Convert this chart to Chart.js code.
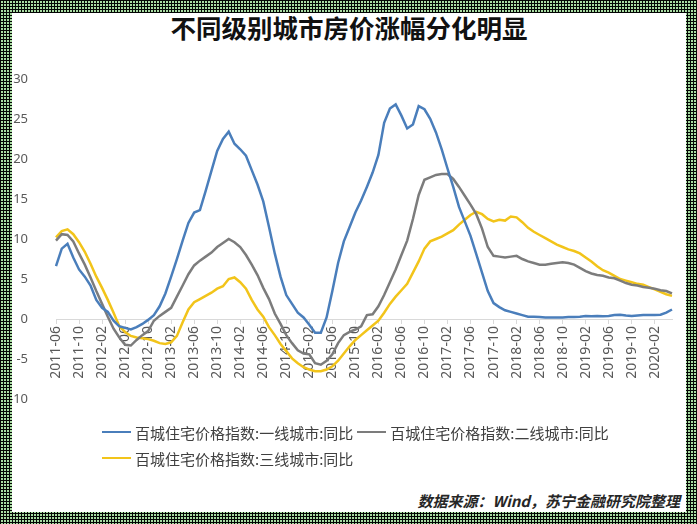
<!DOCTYPE html>
<html><head><meta charset="utf-8">
<script src="https://cdn.jsdelivr.net/npm/chart.js@4.4.1/dist/chart.umd.min.js"></script>
<style>
html,body{margin:0;padding:0;}
body{width:697px;height:524px;position:relative;overflow:hidden;background-color:#a9dca3;
background-image:linear-gradient(to right,#040604 1px,transparent 1px),linear-gradient(to bottom,#040604 1px,transparent 1px);background-size:3px 3px;}
#panel{position:absolute;left:12px;top:13px;width:674px;height:499px;background:#fff;}
#title{position:absolute;left:0;width:674px;top:-1px;height:30px;line-height:30px;text-align:center;font-family:"Noto Sans CJK SC";font-weight:bold;font-size:25.5px;color:#111;}
#wrap{position:absolute;left:0;top:38px;width:674px;height:376px;}
#legend{position:absolute;left:90px;top:406px;width:540px;display:flex;flex-wrap:wrap;font-family:"Noto Sans CJK SC";font-size:15px;color:#404040;}
.item{display:flex;align-items:center;height:26px;margin-right:4px;}
.swatch{width:29px;height:2.5px;margin-right:4px;}
#source{position:absolute;right:6px;top:477px;height:22px;line-height:22px;font-family:"Noto Sans CJK SC";font-weight:bold;font-style:italic;font-size:15px;color:#262626;}
</style></head>
<body>
<div id="panel">
  <div id="title">不同级别城市房价涨幅分化明显</div>
  <div id="wrap"><canvas id="c" width="674" height="376"></canvas></div>
  <div id="legend"></div>
  <div id="source">数据来源：Wind，苏宁金融研究院整理</div>
</div>
<script>
// ---- data ----
const startYear = 2011, startMonth = 6, monthCount = 108;
const months = [];
for (let k = 0; k < monthCount; k++) {
  const m = startMonth - 1 + k;
  const yy = startYear + Math.floor(m / 12), mm = (m % 12) + 1;
  months.push(yy + '-' + (mm < 10 ? '0' + mm : mm));
}
const seriesNames = ['百城住宅价格指数:一线城市:同比', '百城住宅价格指数:二线城市:同比', '百城住宅价格指数:三线城市:同比'];
const seriesColors = ['#4a7ebb', '#7c7c7c', '#f2c41a'];
const tier1 = [
  6.6, 8.8, 9.4, 7.7, 6.2, 5.3, 4.2, 2.4, 1.4, 0.9,
  -0.2, -0.9, -1.1, -1.3, -1.0, -0.6, -0.1, 0.5, 1.6, 3.2,
  5.3, 7.5, 9.8, 12.0, 13.3, 13.6, 16.0, 18.5, 21.0, 22.5,
  23.4, 21.9, 21.2, 20.4, 18.6, 16.8, 14.7, 11.5, 8.2, 5.3,
  3.0, 1.9, 0.8, 0.2, -0.7, -1.7, -1.7, 0.2, 3.5, 7.0,
  9.7, 11.5, 13.3, 14.8, 16.5, 18.3, 20.5, 24.5, 26.3, 26.8,
  25.4, 23.8, 24.3, 26.6, 26.2, 25.0, 23.3, 21.2, 18.8, 16.5,
  14.0, 12.2, 10.4, 8.1, 5.8, 3.5, 2.0, 1.5, 1.1, 0.9,
  0.7, 0.5, 0.3, 0.3, 0.25, 0.2, 0.2, 0.2, 0.2, 0.25,
  0.25, 0.3, 0.4, 0.35, 0.4, 0.35, 0.4, 0.5, 0.55, 0.45,
  0.4, 0.45, 0.5, 0.5, 0.5, 0.55, 0.8, 1.2
];
const tier2 = [
  9.8, 10.6, 10.5, 9.7, 8.2, 6.8, 5.2, 3.5, 1.9, 0.3,
  -1.2, -2.3, -3.2, -3.3, -2.6, -2.0, -1.5, -0.2, 0.4, 0.9,
  1.4, 2.8, 4.2, 5.6, 6.7, 7.3, 7.8, 8.3, 9.0, 9.5,
  10.0, 9.6, 9.0, 8.0, 6.8, 5.5, 3.9, 2.5, 0.7, -0.6,
  -2.0, -3.0, -3.9, -4.3, -4.4, -5.5, -5.7, -5.2, -4.4, -3.0,
  -2.0, -1.6, -1.3, -0.9, 0.5, 0.6, 1.6, 3.0, 4.6, 6.2,
  8.0, 9.8, 12.5, 15.5, 17.4, 17.7, 18.0, 18.1, 18.1, 17.5,
  16.5, 15.4, 14.3, 13.1, 11.3, 9.0, 7.9, 7.8, 7.7, 7.8,
  7.9, 7.5, 7.2, 7.0, 6.8, 6.8, 6.9, 7.0, 7.1, 7.0,
  6.8, 6.4, 6.0, 5.7, 5.5, 5.4, 5.2, 5.1, 4.8, 4.5,
  4.3, 4.2, 4.0, 3.9, 3.8, 3.6, 3.5, 3.2
];
const tier3 = [
  10.2, 11.0, 11.2, 10.6, 9.6, 8.4, 6.9, 5.3, 3.9, 2.4,
  0.8, -0.9, -1.6, -2.1, -2.3, -2.4, -2.5, -2.7, -3.0, -3.1,
  -2.9, -2.1, -0.4, 1.2, 2.1, 2.5, 2.9, 3.3, 3.8, 4.1,
  5.0, 5.2, 4.6, 3.8, 2.4, 1.2, 0.3, -1.0, -2.0, -3.1,
  -4.0, -4.9, -5.5, -6.0, -6.3, -6.5, -6.5, -6.3, -5.9, -5.2,
  -4.3, -3.4, -2.6, -2.0, -1.4, -0.8, -0.2, 0.8, 1.9, 2.8,
  3.6, 4.4, 5.8, 7.2, 8.8, 9.7, 10.0, 10.3, 10.7, 11.1,
  11.8, 12.4, 13.0, 13.4, 13.1, 12.5, 12.2, 12.4, 12.3, 12.8,
  12.7, 12.1, 11.4, 10.9, 10.5, 10.1, 9.7, 9.3, 9.0, 8.7,
  8.5, 8.2, 7.7, 7.2, 6.6, 6.1, 5.8, 5.4, 5.0, 4.8,
  4.6, 4.4, 4.3, 4.0, 3.7, 3.4, 3.1, 2.9
];
const seriesValues = [tier1, tier2, tier3];
const yMin = -10, yMax = 30, yStep = 5, labelEvery = 4;

// ---- legend ----
const legend = document.getElementById('legend');
seriesNames.forEach((n, k) => {
  const it = document.createElement('div'); it.className = 'item';
  const sw = document.createElement('div'); sw.className = 'swatch'; sw.style.background = seriesColors[k];
  const tx = document.createElement('span'); tx.textContent = n;
  it.appendChild(sw); it.appendChild(tx); legend.appendChild(it);
  if (k === 1) { const br = document.createElement('div'); br.style.flexBasis = '100%'; br.style.height = '0'; legend.appendChild(br); }
});

// ---- chart ----
Chart.defaults.font.family = "'Noto Sans', sans-serif";
new Chart(document.getElementById('c'), {
  type: 'line',
  data: {
    labels: months,
    datasets: seriesNames.map((n, k) => ({
      label: n, data: seriesValues[k], borderColor: seriesColors[k], backgroundColor: seriesColors[k],
      borderWidth: 2.5, pointRadius: 0, pointHoverRadius: 0, tension: 0, fill: false
    }))
  },
  options: {
    responsive: false, animation: false, devicePixelRatio: 1,
    layout: { padding: { left: 0, right: 14, top: 9, bottom: 15 } },
    plugins: { legend: { display: false }, tooltip: { enabled: false }, title: { display: false } },
    scales: {
      x: {
        type: 'category', position: { y: 0 }, offset: false,
        grid: { display: true, drawOnChartArea: false, drawTicks: true, tickLength: 4, color: '#d9d9d9' },
        border: { display: true, color: '#d9d9d9', width: 1 },
        ticks: {
          autoSkip: false, maxRotation: 90, minRotation: 90, padding: 3, color: '#595959',
          font: { size: 14 },
          callback: function (v, i) { return i % labelEvery === 0 ? this.getLabelForValue(v) : null; }
        }
      },
      y: {
        min: yMin, max: yMax,
        ticks: { stepSize: yStep, padding: 20, color: '#595959', font: { size: 13 } },
        grid: { display: false }, border: { display: false },
        afterFit: function (s) { s.width = 44; }
      }
    }
  }
});
</script>
</body></html>
